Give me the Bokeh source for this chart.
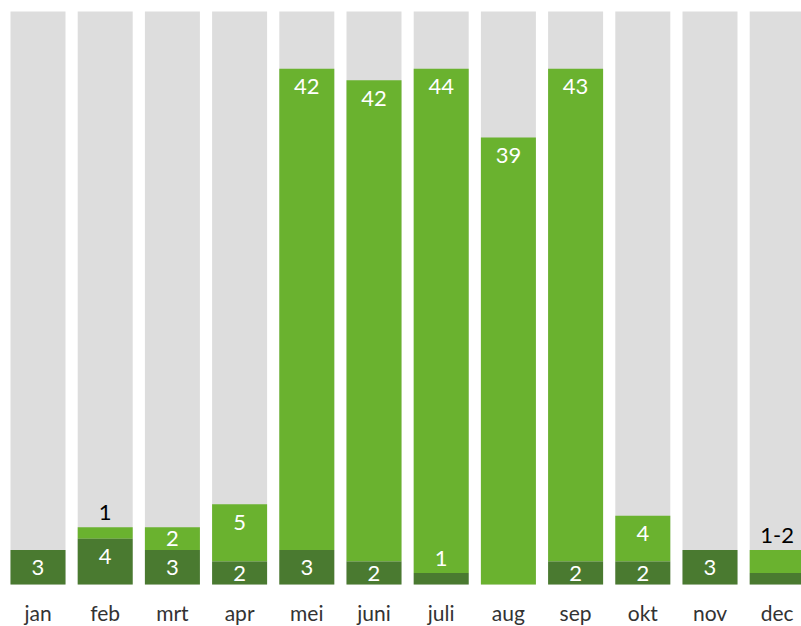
from bokeh.plotting import figure
from bokeh.models import ColumnDataSource, Range1d
from bokeh.core.properties import value
from bokeh.embed import file_html
from bokeh.resources import INLINE

months = ["jan", "feb", "mrt", "apr", "mei", "juni", "juli", "aug", "sep", "okt", "nov", "dec"]
dark = [3, 4, 3, 2, 3, 2, 1, 0, 2, 2, 3, 1]
light = [0, 1, 2, 5, 42, 42, 44, 39, 43, 4, 0, 2]
scale_max = 50
dark_labels = ["3", "4", "3", "2", "3", "2", "1", "", "2", "2", "3", ""]
light_labels = ["", "", "2", "5", "42", "42", "44", "39", "43", "4", "", ""]
top_labels = ["", "1", "", "", "", "", "", "", "", "", "", "1-2"]

GREY = "#dddddd"
LIGHT = "#6ab22f"
DARK = "#4a7a30"
FONT = "Lato"

x = list(range(len(months)))
totals = [d + l for d, l in zip(dark, light)]

W, H = 801, 626
unit = 573 / scale_max  # px per unit
pitch = 67.2
p = figure(width=W, height=H, output_backend="svg", toolbar_location=None,
           min_border=0, outline_line_color=None, background_fill_color="white")
p.x_range = Range1d(-37.5 / pitch, (W - 37.5) / pitch)
p.y_range = Range1d(-(H - 584) / unit, scale_max + 11 / unit)
p.xaxis.visible = False
p.yaxis.visible = False
p.xgrid.visible = False
p.ygrid.visible = False

bw = 55 / pitch
src = ColumnDataSource(dict(x=x, dark=dark, light=light, total=totals,
                            full=[scale_max] * len(x)))
p.vbar(x="x", width=bw, bottom=0, top="full", source=src, fill_color=GREY, line_color=None)
p.vbar(x="x", width=bw, bottom="dark", top="total", source=src, fill_color=LIGHT, line_color=None)
p.vbar(x="x", width=bw, bottom=0, top="dark", source=src, fill_color=DARK, line_color=None)

off = 1.57
above = 1.3
lx, ly, lt, lc = [], [], [], []
for i in x:
    if dark_labels[i]:
        d = dark[i]
        y = d - min(off, d / 2) if d >= 2 else d + above
        lx.append(i); ly.append(y); lt.append(dark_labels[i]); lc.append("white")
    if light_labels[i]:
        l = light[i]
        y = totals[i] - min(off, l / 2)
        lx.append(i); ly.append(y); lt.append(light_labels[i]); lc.append("white")
    if top_labels[i]:
        lx.append(i); ly.append(totals[i] + above); lt.append(top_labels[i]); lc.append("black")

lsrc = ColumnDataSource(dict(x=lx, y=ly, t=lt, c=lc))
p.text(x="x", y="y", text="t", text_color="c", source=lsrc, text_align="center",
       text_baseline="middle", text_font=value(FONT), text_font_size="22px")

msrc = ColumnDataSource(dict(x=x, y=[-(612 - 584) / unit] * len(x), t=months))
p.text(x="x", y="y", text="t", source=msrc, text_align="center", text_baseline="middle",
       text_color="#333333", text_font=value(FONT), text_font_size="21px")

open("out.html", "w").write(file_html(p, INLINE))
